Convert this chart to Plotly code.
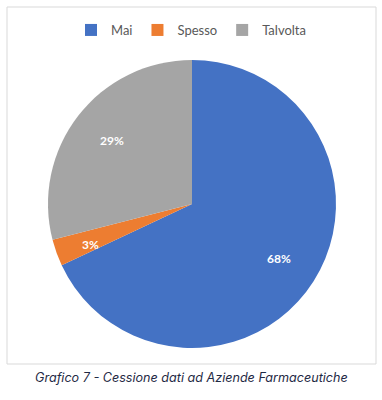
import math
import plotly.graph_objects as go

labels = ["Mai", "Spesso", "Talvolta"]
values = [68, 3, 29]
colors = ["#4472C4", "#ED7D31", "#A5A5A5"]
caption = "Grafico 7 - Cessione dati ad Aziende Farmaceutiche"

W, H = 382, 400
cx, cy, R = 192, 204, 144  # pie centre/radius in pixels

fig = go.Figure(go.Pie(
    labels=labels, values=values, sort=False, direction="clockwise", rotation=0,
    marker=dict(colors=colors, line=dict(width=0)),
    textinfo="none", hoverinfo="label+percent",
    domain=dict(x=[(cx - R) / W, (cx + R) / W], y=[1 - (cy + R) / H, 1 - (cy - R) / H]),
))

# percentage labels placed at the slice mid-angles
total = sum(values)
cum = 0
annotations = []
for v in values:
    frac_mid = (cum + v / 2) / total
    cum += v
    th = 2 * math.pi * frac_mid
    rr = R * 0.83
    px = cx + rr * math.sin(th)
    py = cy - rr * math.cos(th)
    annotations.append(dict(x=px / W, y=1 - py / H, xref="paper", yref="paper",
                            text=f"<b>{round(100 * v / total)}%</b>", showarrow=False,
                            font=dict(color="white", size=12, family="Lato")))

annotations.append(dict(x=191 / W, y=1 - 387 / H, xref="paper", yref="paper",
                        text=f"<i>{caption}</i>", showarrow=False,
                        font=dict(color="#1F2A44", size=12.6, family="Inter")))

fig.update_layout(
    width=W, height=H, margin=dict(l=0, r=0, t=0, b=0),
    paper_bgcolor="white", plot_bgcolor="white",
    showlegend=True,
    legend=dict(orientation="h", x=0.5, xanchor="center", y=1 - 30 / H, yanchor="middle",
                font=dict(size=13, color="#595959", family="Lato"),
                itemwidth=30, tracegroupgap=0, entrywidth=0),
    annotations=annotations,
    shapes=[dict(type="rect", xref="paper", yref="paper",
                 x0=7 / W, x1=376 / W, y0=1 - 364 / H, y1=1 - 7 / H,
                 line=dict(color="#D9D9D9", width=1), fillcolor="rgba(0,0,0,0)")],
)

fig.write_html("out.html", config={"displayModeBar": False},
               post_script="document.body.style.margin='0';")
